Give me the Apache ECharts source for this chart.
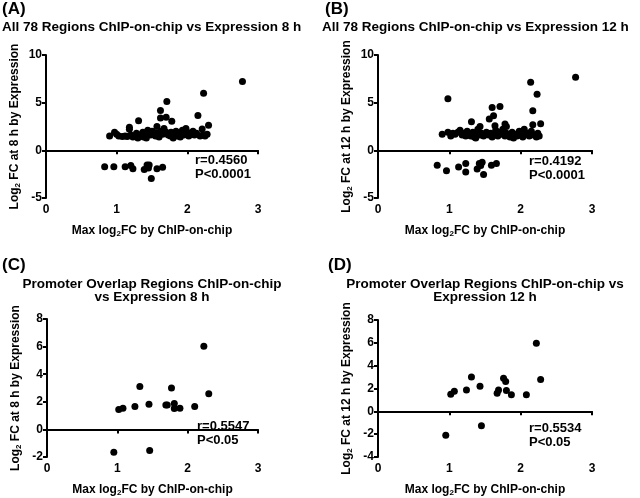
<!DOCTYPE html>
<html>
<head>
<meta charset="utf-8">
<script src="https://cdn.jsdelivr.net/npm/echarts@6/dist/echarts.min.js"></script>
<style>html,body{margin:0;padding:0;background:#fff}#main{width:640px;height:498px}</style>
</head>
<body>
<div id="main"></div>
<script>
// panel titles
var panelTags = ['(A)', '(B)', '(C)', '(D)'];
var panelTitles = [
    'All 78 Regions ChIP-on-chip vs Expression 8 h',
    'All 78 Regions ChIP-on-chip vs Expression 12 h',
    'Promoter Overlap Regions ChIP-on-chip\nvs Expression 8 h',
    'Promoter Overlap Regions ChIP-on-chip vs\nExpression 12 h'
];
var statTexts = [
    'r=0.4560\nP<0.0001',
    'r=0.4192\nP<0.0001',
    'r=0.5547\nP<0.05',
    'r=0.5534\nP<0.05'
];
var hours = ['8', '12', '8', '12'];

var xTicks = [0, 1, 2, 3];
var yTicksA = [-5, 0, 5, 10];
var yTicksC = [-2, 0, 2, 4, 6, 8];
var yTicksD = [-4, -2, 0, 2, 4, 6, 8];

// (A) all regions, 8 h
var dataA = [
    [2.78, 7.23], [2.23, 6.00], [1.71, 5.13], [1.62, 4.19], [1.62, 3.39], [1.70, 3.46],
    [1.78, 3.04], [1.31, 3.11], [1.18, 2.41], [2.15, 3.66], [2.30, 2.62], [2.21, 2.24],
    [0.83, -1.71], [0.96, -1.71], [1.12, -1.71], [1.20, -1.60], [1.23, -1.92], [1.39, -2.02],
    [1.43, -1.53], [1.45, -1.85], [1.49, -2.96], [1.57, -1.92], [1.65, -1.78], [1.46, -1.55],
    [0.90, 1.5], [0.97, 1.9], [1.00, 1.7], [1.03, 1.5], [1.08, 1.45], [1.12, 1.5],
    [1.15, 1.45], [1.18, 2.2], [1.20, 1.6], [1.23, 1.4], [1.26, 1.5], [1.28, 1.8],
    [1.30, 1.3], [1.32, 1.6], [1.35, 1.5], [1.37, 1.9], [1.40, 1.7], [1.42, 1.3],
    [1.44, 2.1], [1.46, 1.8], [1.48, 1.6], [1.50, 2.0], [1.52, 1.9], [1.55, 1.5],
    [1.57, 2.5], [1.58, 1.8], [1.60, 1.4], [1.63, 2.0], [1.65, 1.7], [1.67, 2.3],
    [1.70, 1.9], [1.73, 1.6], [1.76, 1.5], [1.80, 1.3], [1.82, 1.7], [1.84, 2.0],
    [1.86, 1.5], [1.88, 1.8], [1.90, 1.4], [1.93, 2.1], [1.95, 1.6], [1.98, 2.3],
    [2.00, 1.9], [2.02, 1.5], [2.05, 1.7], [2.08, 2.0], [2.10, 1.6], [2.13, 1.8],
    [2.18, 1.5], [2.22, 1.6], [2.25, 1.5], [2.28, 1.7], [1.38, 1.4], [1.77, 1.9]
];
// (B) all regions, 12 h
var dataB = [
    [2.77, 7.67], [2.14, 7.14], [2.23, 5.89], [0.98, 5.40], [2.17, 4.15], [1.71, 4.60],
    [1.60, 4.49], [1.62, 3.62], [1.56, 3.28], [1.31, 3.00], [2.17, 2.68], [2.28, 2.79],
    [1.64, 2.58], [1.43, 2.50], [1.78, 2.75], [1.80, 2.50],
    [0.83, -1.57], [0.96, -2.13], [1.13, -1.74], [1.23, -1.39], [1.23, -2.26], [1.39, -1.95],
    [1.42, -1.39], [1.46, -1.25], [1.48, -2.54], [1.59, -1.57], [1.66, -1.39], [1.44, -1.60],
    [0.90, 1.7], [0.98, 1.9], [1.02, 1.5], [1.05, 1.8], [1.08, 1.7], [1.12, 1.9],
    [1.15, 2.1], [1.18, 1.6], [1.20, 1.8], [1.23, 1.5], [1.25, 2.0], [1.28, 1.7],
    [1.30, 1.5], [1.33, 1.9], [1.35, 1.4], [1.38, 1.7], [1.40, 2.2], [1.43, 1.6],
    [1.45, 1.8], [1.48, 1.5], [1.52, 1.9], [1.55, 1.6], [1.58, 1.8], [1.62, 1.7],
    [1.65, 2.1], [1.68, 1.5], [1.70, 1.9], [1.72, 1.7], [1.75, 2.2], [1.78, 1.5],
    [1.80, 1.8], [1.83, 1.6], [1.85, 1.4], [1.88, 1.9], [1.90, 1.3], [1.92, 1.7],
    [1.95, 1.5], [1.98, 2.0], [2.00, 1.6], [2.03, 1.4], [2.05, 2.2], [2.08, 1.8],
    [2.12, 1.5], [2.15, 2.0], [2.18, 1.6], [2.22, 1.4], [2.24, 1.8], [2.26, 1.5],
    [1.37, 1.3], [1.60, 1.4]
];
// (C) promoter overlap, 8 h
var dataC = [
    [1.02, 1.45], [1.08, 1.54], [1.25, 1.66], [1.32, 3.10], [1.45, 1.82], [1.69, 1.77],
    [1.71, 1.77], [1.77, 3.00], [1.81, 1.87], [1.81, 1.52], [1.89, 1.54], [2.10, 1.66],
    [2.23, 6.03], [2.30, 2.59], [0.95, -1.66], [1.46, -1.52]
];
// (D) promoter overlap, 12 h
var dataD = [
    [2.22, 5.97], [1.31, 3.01], [1.76, 2.90], [1.79, 2.62], [2.28, 2.79], [1.43, 2.20],
    [1.24, 1.87], [1.07, 1.75], [1.02, 1.50], [1.69, 1.87], [1.67, 1.58], [1.80, 1.83],
    [1.87, 1.45], [2.08, 1.45], [1.45, -1.26], [0.95, -2.10]
];

var FONT = '"Liberation Sans", Arial, sans-serif';

var grids = [
    {left: 46, top: 55, width: 212, height: 143},
    {left: 378, top: 55, width: 214, height: 143},
    {left: 47, top: 319, width: 211, height: 143},
    {left: 378, top: 320, width: 214, height: 143}
];
var yRanges = [yTicksA, yTicksA, yTicksC, yTicksD];
var allData = [dataA, dataB, dataC, dataD];

function nameRich(){
    return {
        a: {fontFamily: FONT, fontWeight: 'bold', fontSize: 12, color: '#000'},
        s: {fontFamily: FONT, fontWeight: 'bold', fontSize: 8, color: '#000', padding: [6, 0, 0, 0]}
    };
}
function makeX(gi){
    return {
        gridIndex: gi, type: 'value',
        min: xTicks[0], max: xTicks[xTicks.length - 1], interval: 1,
        name: '{a|Max log}{s|2}{a|FC by ChIP-on-chip}',
        nameLocation: 'middle', nameGap: 26,
        nameTextStyle: {rich: nameRich()},
        axisLine: {lineStyle: {color: '#000', width: 2}},
        axisTick: {length: 4, lineStyle: {color: '#000', width: 2}},
        axisLabel: {color: '#000', fontWeight: 'bold', fontSize: 12, fontFamily: FONT, margin: 6},
        splitLine: {show: false}
    };
}
function makeY(gi){
    var t = yRanges[gi];
    return {
        gridIndex: gi, type: 'value',
        min: t[0], max: t[t.length - 1], interval: t[1] - t[0],
        name: '{a|Log}{s|2}{a| FC at ' + hours[gi] + ' h by Expression}',
        nameLocation: 'middle', nameGap: 24,
        nameTextStyle: {rich: nameRich()},
        axisLine: {lineStyle: {color: '#000', width: 2}},
        axisTick: {length: 4, lineStyle: {color: '#000', width: 2}},
        axisLabel: {color: '#000', fontWeight: 'bold', fontSize: 12, fontFamily: FONT, margin: 4},
        splitLine: {show: false}
    };
}

var graphics = [];
var tagPos = [[2, 1], [325, 1], [2, 257], [328, 257]];
var titlePos = [
    {x: 2, y: 21, align: 'left'},
    {x: 322, y: 21, align: 'left'},
    {x: 152, y: 278, align: 'center'},
    {x: 485, y: 278, align: 'center'}
];
var statPos = [[195, 153], [529, 154], [197, 419], [529, 421]];
for (var i = 0; i < 4; i++) {
    graphics.push({type: 'text', x: tagPos[i][0], y: tagPos[i][1],
        style: {text: panelTags[i], font: 'bold 17px ' + FONT, fill: '#000'}});
    graphics.push({type: 'text', x: titlePos[i].x, y: titlePos[i].y,
        style: {text: panelTitles[i], font: 'bold 13.5px ' + FONT, fill: '#000',
                textAlign: titlePos[i].align, lineHeight: 13}});
    graphics.push({type: 'text', x: statPos[i][0], y: statPos[i][1],
        style: {text: statTexts[i], font: 'bold 13px ' + FONT, fill: '#000', lineHeight: 14}});
}

var option = {
    backgroundColor: '#fff',
    animation: false,
    grid: grids,
    xAxis: [makeX(0), makeX(1), makeX(2), makeX(3)],
    yAxis: [makeY(0), makeY(1), makeY(2), makeY(3)],
    series: allData.map(function(d, i){
        return {
            type: 'scatter', xAxisIndex: i, yAxisIndex: i,
            symbolSize: 7,
            itemStyle: {color: '#000', opacity: 1},
            data: d
        };
    }),
    graphic: graphics
};
var myChart = echarts.init(document.getElementById('main'));
myChart.setOption(option);
</script>
</body>
</html>
